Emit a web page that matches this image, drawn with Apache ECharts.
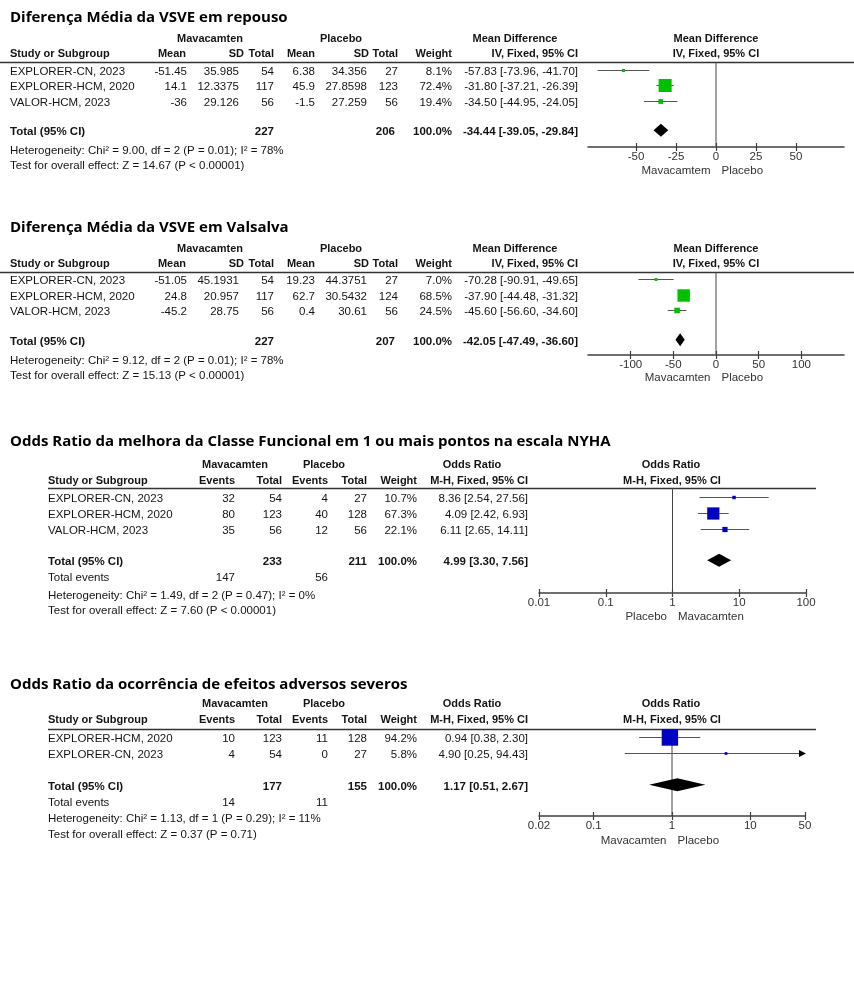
<!DOCTYPE html>
<html><head><meta charset="utf-8">
<script src="https://cdn.jsdelivr.net/npm/echarts@6/dist/echarts.min.js"></script>
<style>html,body{margin:0;padding:0;background:#fff}#c{width:854px;height:1008px}</style>
</head><body><div id="c"></div>
<script>
// ================= DATA =================
// Panel 1 – Diferença Média da VSVE em repouso
const p1Title = 'Diferença Média da VSVE em repouso';
const p1Studies = ['EXPLORER-CN, 2023', 'EXPLORER-HCM, 2020', 'VALOR-HCM, 2023'];
const p1MavMean = ['-51.45', '14.1', '-36'];
const p1MavSD = ['35.985', '12.3375', '29.126'];
const p1MavTotal = [54, 117, 56];
const p1PlaMean = ['6.38', '45.9', '-1.5'];
const p1PlaSD = ['34.356', '27.8598', '27.259'];
const p1PlaTotal = [27, 123, 56];
const p1Weight = [8.1, 72.4, 19.4];
const p1Est = [-57.83, -31.80, -34.50];
const p1Lo = [-73.96, -37.21, -44.95];
const p1Hi = [-41.70, -26.39, -24.05];
const p1SumTotals = [227, 206];
const p1Pooled = [-34.44, -39.05, -29.84];
const p1Het = 'Heterogeneity: Chi² = 9.00, df = 2 (P = 0.01); I² = 78%';
const p1Effect = 'Test for overall effect: Z = 14.67 (P < 0.00001)';
const p1Ticks = [-50, -25, 0, 25, 50];
const p1Range = [-80, 80];
const p1Favours = ['Mavacamtem', 'Placebo'];

// Panel 2 – Diferença Média da VSVE em Valsalva
const p2Title = 'Diferença Média da VSVE em Valsalva';
const p2Studies = ['EXPLORER-CN, 2023', 'EXPLORER-HCM, 2020', 'VALOR-HCM, 2023'];
const p2MavMean = ['-51.05', '24.8', '-45.2'];
const p2MavSD = ['45.1931', '20.957', '28.75'];
const p2MavTotal = [54, 117, 56];
const p2PlaMean = ['19.23', '62.7', '0.4'];
const p2PlaSD = ['44.3751', '30.5432', '30.61'];
const p2PlaTotal = [27, 124, 56];
const p2Weight = [7.0, 68.5, 24.5];
const p2Est = [-70.28, -37.90, -45.60];
const p2Lo = [-90.91, -44.48, -56.60];
const p2Hi = [-49.65, -31.32, -34.60];
const p2SumTotals = [227, 207];
const p2Pooled = [-42.05, -47.49, -36.60];
const p2Het = 'Heterogeneity: Chi² = 9.12, df = 2 (P = 0.01); I² = 78%';
const p2Effect = 'Test for overall effect: Z = 15.13 (P < 0.00001)';
const p2Ticks = [-100, -50, 0, 50, 100];
const p2Range = [-150, 150];
const p2Favours = ['Mavacamten', 'Placebo'];

// Panel 3 – Odds Ratio da melhora da Classe Funcional (NYHA)
const p3Title = 'Odds Ratio da melhora da Classe Funcional em 1 ou mais pontos na escala NYHA';
const p3Studies = ['EXPLORER-CN, 2023', 'EXPLORER-HCM, 2020', 'VALOR-HCM, 2023'];
const p3MavEvents = [32, 80, 35];
const p3MavTotal = [54, 123, 56];
const p3PlaEvents = [4, 40, 12];
const p3PlaTotal = [27, 128, 56];
const p3Weight = [10.7, 67.3, 22.1];
const p3Est = [8.36, 4.09, 6.11];
const p3Lo = [2.54, 2.42, 2.65];
const p3Hi = [27.56, 6.93, 14.11];
const p3SumTotals = [233, 211];
const p3SumEvents = [147, 56];
const p3Pooled = [4.99, 3.30, 7.56];
const p3Het = 'Heterogeneity: Chi² = 1.49, df = 2 (P = 0.47); I² = 0%';
const p3Effect = 'Test for overall effect: Z = 7.60 (P < 0.00001)';
const p3Ticks = [0.01, 0.1, 1, 10, 100];
const p3Favours = ['Placebo', 'Mavacamten'];

// Panel 4 – Odds Ratio da ocorrência de efeitos adversos severos
const p4Title = 'Odds Ratio da ocorrência de efeitos adversos severos';
const p4Studies = ['EXPLORER-HCM, 2020', 'EXPLORER-CN, 2023'];
const p4MavEvents = [10, 4];
const p4MavTotal = [123, 54];
const p4PlaEvents = [11, 0];
const p4PlaTotal = [128, 27];
const p4Weight = [94.2, 5.8];
const p4Est = [0.94, 4.90];
const p4Lo = [0.38, 0.25];
const p4Hi = [2.30, 94.43];
const p4SumTotals = [177, 155];
const p4SumEvents = [14, 11];
const p4Pooled = [1.17, 0.51, 2.67];
const p4Het = 'Heterogeneity: Chi² = 1.13, df = 1 (P = 0.29); I² = 11%';
const p4Effect = 'Test for overall effect: Z = 0.37 (P = 0.71)';
const p4Ticks = [0.02, 0.1, 1, 10, 50];
const p4Favours = ['Mavacamten', 'Placebo'];

// Header labels
const mdHeadTop = ['Mavacamten', 'Placebo', 'Mean Difference', 'Mean Difference'];
const mdHeadSub = ['Study or Subgroup', 'Mean', 'SD', 'Total', 'Mean', 'SD', 'Total', 'Weight', 'IV, Fixed, 95% CI', 'IV, Fixed, 95% CI'];
const orHeadTop = ['Mavacamten', 'Placebo', 'Odds Ratio', 'Odds Ratio'];
const orHeadSub = ['Study or Subgroup', 'Events', 'Total', 'Events', 'Total', 'Weight', 'M-H, Fixed, 95% CI', 'M-H, Fixed, 95% CI'];
const totalLabel = 'Total (95% CI)';
const totalWeightLabel = '100.0%';
const eventsLabel = 'Total events';

// ================= LAYOUT / STYLE =================
const FONT = '"Liberation Sans", Arial, Helvetica, sans-serif';
const TITLE_FONT = 'bold 15px "Open Sans", "Liberation Sans", sans-serif';
const ROW_SIZE = '11.5px ';
const HEAD_SIZE = '11px ';
const GREEN = '#00c000';
const BLUE = '#0000c0';
const TXT = '#141414';

const MD_HEAD_TOP_POS = [[210, 'center'], [341, 'center'], [515, 'center'], [716, 'center']];
const MD_HEAD_SUB_POS = [[10, 'left'], [186, 'right'], [244, 'right'], [274, 'right'], [315, 'right'], [369, 'right'], [398, 'right'], [452, 'right'], [578, 'right'], [716, 'center']];
const MD_COLS = { study: 10, cells: [187, 239, 274, 315, 367, 398], weight: 452, ci: 578, totN: [274, 395] };
const OR_HEAD_TOP_POS = [[235, 'center'], [324, 'center'], [472, 'center'], [671, 'center']];
const OR_HEAD_SUB_POS = [[48, 'left'], [235, 'right'], [282, 'right'], [328, 'right'], [367, 'right'], [417, 'right'], [528, 'right'], [672, 'center']];
const OR_COLS = { study: 48, cells: [235, 282, 328, 367], weight: 417, ci: 528, totN: [282, 367], totEv: [235, 328] };

const LAYOUT = [
  { titleY: 18, h1Y: 39, h2Y: 54, top: 62, bottom: 147, unit: 15.5, row1: 69.7, totalRow: 4.9, eventsRow: null, hetRow: 6.1, testRow: 7.07, lineX: [0, 854], gridLeft: 588, gridWidth: 256, favY: 171 },
  { titleY: 228, h1Y: 249, h2Y: 264, top: 272, bottom: 355, unit: 15.5, row1: 279.3, totalRow: 4.9, eventsRow: null, hetRow: 6.1, testRow: 7.07, lineX: [0, 854], gridLeft: 588, gridWidth: 256, favY: 378 },
  { titleY: 442, h1Y: 465, h2Y: 481, top: 488, bottom: 593, unit: 15.8, row1: 497, totalRow: 5, eventsRow: 6, hetRow: 7.1, testRow: 8.05, lineX: [48, 816], gridLeft: 539, gridWidth: 267, favY: 617 },
  { titleY: 685, h1Y: 704, h2Y: 720, top: 729, bottom: 816, unit: 16, row1: 736.7, totalRow: 4, eventsRow: 5, hetRow: 6, testRow: 7, lineX: [48, 816], gridLeft: 539, gridWidth: 266, favY: 841 }
];

// ================= BUILD =================
const f2 = v => v.toFixed(2);
const ciText = (e, l, h) => `${f2(e)} [${f2(l)}, ${f2(h)}]`;
const wText = w => w.toFixed(1) + '%';

const panels = [
  { kind: 'md', title: p1Title, studies: p1Studies, cols: [p1MavMean, p1MavSD, p1MavTotal, p1PlaMean, p1PlaSD, p1PlaTotal], weight: p1Weight, est: p1Est, lo: p1Lo, hi: p1Hi, totals: p1SumTotals, events: null, pooled: p1Pooled, het: p1Het, effect: p1Effect, ticks: p1Ticks, range: p1Range, favours: p1Favours, color: GREEN },
  { kind: 'md', title: p2Title, studies: p2Studies, cols: [p2MavMean, p2MavSD, p2MavTotal, p2PlaMean, p2PlaSD, p2PlaTotal], weight: p2Weight, est: p2Est, lo: p2Lo, hi: p2Hi, totals: p2SumTotals, events: null, pooled: p2Pooled, het: p2Het, effect: p2Effect, ticks: p2Ticks, range: p2Range, favours: p2Favours, color: GREEN },
  { kind: 'or', title: p3Title, studies: p3Studies, cols: [p3MavEvents, p3MavTotal, p3PlaEvents, p3PlaTotal], weight: p3Weight, est: p3Est, lo: p3Lo, hi: p3Hi, totals: p3SumTotals, events: p3SumEvents, pooled: p3Pooled, het: p3Het, effect: p3Effect, ticks: p3Ticks, range: [p3Ticks[0], p3Ticks[p3Ticks.length - 1]], favours: p3Favours, color: BLUE },
  { kind: 'or', title: p4Title, studies: p4Studies, cols: [p4MavEvents, p4MavTotal, p4PlaEvents, p4PlaTotal], weight: p4Weight, est: p4Est, lo: p4Lo, hi: p4Hi, totals: p4SumTotals, events: p4SumEvents, pooled: p4Pooled, het: p4Het, effect: p4Effect, ticks: p4Ticks, range: [p4Ticks[0], p4Ticks[p4Ticks.length - 1]], favours: p4Favours, color: BLUE }
];

function textEl(x, y, text, align, bold, fill, font, size) {
  return {
    type: 'text', x: x, y: y, silent: true,
    style: {
      text: String(text), font: font || ((bold ? 'bold ' : '') + (size || HEAD_SIZE) + FONT), fill: fill || TXT,
      textAlign: align, textVerticalAlign: 'middle', align: align, verticalAlign: 'middle'
    }
  };
}

const grids = [], xAxes = [], yAxes = [], series = [], graphics = [];

panels.forEach((P, i) => {
  const L = LAYOUT[i];
  const isLog = P.kind === 'or';
  const ref = isLog ? 1 : 0;
  const yMin = 1 - (L.row1 - L.top) / L.unit;
  const yMax = yMin + (L.bottom - L.top) / L.unit;
  const C = isLog ? OR_COLS : MD_COLS;

  grids.push({ left: L.gridLeft, top: L.top, width: L.gridWidth, height: L.bottom - L.top, outerBoundsMode: 'none', containLabel: false });

  const baseX = {
    gridIndex: i, type: isLog ? 'log' : 'value', min: P.range[0], max: P.range[1], position: 'bottom',
    splitLine: { show: false }, minorTick: { show: false }
  };
  if (isLog) baseX.logBase = 10;
  const mainX = Object.assign({}, baseX, {
    axisLine: { show: true, onZero: false, lineStyle: { color: '#404040', width: 1.5 } },
    axisTick: { show: true, inside: false, length: 4, lineStyle: { color: '#404040', width: 1.2 } },
    axisLabel: { show: true, margin: 4, fontSize: 11.5, fontFamily: FONT, color: '#333', showMinLabel: true, showMaxLabel: true }
  });
  if (!isLog) { mainX.axisTick.customValues = P.ticks; mainX.axisLabel.customValues = P.ticks; }
  const overX = Object.assign({}, baseX, {
    axisLine: { show: false, onZero: false },
    axisTick: { show: true, inside: true, length: 4, lineStyle: { color: '#404040', width: 1.2 } },
    axisLabel: { show: false }
  });
  if (!isLog) overX.axisTick.customValues = P.ticks;
  const mainXIdx = xAxes.length; xAxes.push(mainX); xAxes.push(overX);
  yAxes.push({ gridIndex: i, type: 'value', inverse: true, min: yMin, max: yMax, show: false });

  // null-effect reference line
  series.push({
    type: 'line', xAxisIndex: mainXIdx, yAxisIndex: i, silent: true, symbol: 'none', z: 1,
    data: [[ref, yMin], [ref, yMax]], lineStyle: { color: '#444', width: 1 }
  });

  // study estimates: CI whiskers + weighted squares
  const studyData = P.est.map((e, k) => [e, k + 1, P.lo[k], P.hi[k], P.weight[k]]);
  series.push({
    type: 'custom', xAxisIndex: mainXIdx, yAxisIndex: i, clip: false, z: 3, silent: true,
    data: studyData,
    renderItem: (params, api) => {
      const cs = params.coordSys;
      const row = api.value(1);
      const pE = api.coord([api.value(0), row]);
      const pL = api.coord([api.value(2), row]);
      const pH = api.coord([api.value(3), row]);
      const xLo = Math.max(pL[0], cs.x), xHi = Math.min(pH[0], cs.x + cs.width);
      const y = Math.round(pE[1]) + 0.5;
      const s = 1.8 + 0.155 * api.value(4);
      const ch = [{ type: 'line', shape: { x1: xLo, y1: y, x2: xHi, y2: y }, style: { stroke: '#555', lineWidth: 1 } }];
      if (pH[0] > cs.x + cs.width) {
        ch.push({ type: 'polygon', shape: { points: [[xHi + 1, y], [xHi - 6, y - 3.5], [xHi - 6, y + 3.5]] }, style: { fill: '#000' } });
      }
      ch.push({ type: 'rect', shape: { x: pE[0] - s / 2, y: y - s / 2, width: s, height: s }, style: { fill: P.color } });
      return { type: 'group', children: ch };
    }
  });

  // pooled diamond
  series.push({
    type: 'custom', xAxisIndex: mainXIdx, yAxisIndex: i, clip: false, z: 4, silent: true,
    data: [[P.pooled[0], L.totalRow, P.pooled[1], P.pooled[2]]],
    renderItem: (params, api) => {
      const row = api.value(1);
      const pE = api.coord([api.value(0), row]);
      const pL = api.coord([api.value(2), row]);
      const pH = api.coord([api.value(3), row]);
      const y = pE[1], h = 6.5;
      return { type: 'polygon', shape: { points: [[pL[0], y], [pE[0], y - h], [pH[0], y], [pE[0], y + h]] }, style: { fill: '#000' } };
    }
  });

  // table rows (text), vertically placed through the same y axis
  const specs = [];
  P.studies.forEach((name, k) => {
    const cells = [[C.study, 'left', name, false]];
    P.cols.forEach((col, c) => cells.push([C.cells[c], 'right', col[k], false]));
    cells.push([C.weight, 'right', wText(P.weight[k]), false]);
    cells.push([C.ci, 'right', ciText(P.est[k], P.lo[k], P.hi[k]), false]);
    specs.push({ row: k + 1, cells });
  });
  specs.push({ row: L.totalRow, cells: [
    [C.study, 'left', totalLabel, true],
    [C.totN[0], 'right', P.totals[0], true],
    [C.totN[1], 'right', P.totals[1], true],
    [C.weight, 'right', totalWeightLabel, true],
    [C.ci, 'right', ciText(P.pooled[0], P.pooled[1], P.pooled[2]), true]
  ] });
  if (P.events) {
    specs.push({ row: L.eventsRow, cells: [
      [C.study, 'left', eventsLabel, false],
      [C.totEv[0], 'right', P.events[0], false],
      [C.totEv[1], 'right', P.events[1], false]
    ] });
  }
  specs.push({ row: L.hetRow, cells: [[C.study, 'left', P.het, false]] });
  specs.push({ row: L.testRow, cells: [[C.study, 'left', P.effect, false]] });

  series.push({
    type: 'custom', xAxisIndex: mainXIdx, yAxisIndex: i, clip: false, z: 5, silent: true,
    data: specs.map(s => [ref, s.row]),
    renderItem: (params, api) => {
      const sp = specs[params.dataIndex];
      const y = api.coord([ref, api.value(1)])[1] + 2;
      return { type: 'group', children: sp.cells.map(c => textEl(c[0], y, c[2], c[1], c[3], null, null, ROW_SIZE)) };
    }
  });

  // headers, title, rule line
  graphics.push(textEl(10, L.titleY, P.title, 'left', true, '#000', TITLE_FONT));
  const ht = isLog ? orHeadTop : mdHeadTop, htp = isLog ? OR_HEAD_TOP_POS : MD_HEAD_TOP_POS;
  const hs = isLog ? orHeadSub : mdHeadSub, hsp = isLog ? OR_HEAD_SUB_POS : MD_HEAD_SUB_POS;
  ht.forEach((t, k) => graphics.push(textEl(htp[k][0], L.h1Y, t, htp[k][1], true)));
  hs.forEach((t, k) => graphics.push(textEl(hsp[k][0], L.h2Y, t, hsp[k][1], true)));
  graphics.push({ type: 'line', silent: true, shape: { x1: L.lineX[0], y1: L.top + 0.5, x2: L.lineX[1], y2: L.top + 0.5 }, style: { stroke: '#333', lineWidth: 1.5 } });
  P._axis = { ref, mainXIdx };
});

const option = {
  animation: false,
  backgroundColor: '#fff',
  grid: grids, xAxis: xAxes, yAxis: yAxes, series: series, graphic: { elements: graphics }
};
const chart = echarts.init(document.getElementById('c'), null, { renderer: 'canvas', width: 854, height: 1008 });
chart.setOption(option);

// favours labels positioned at the null-effect line, located through the axis
const favGraphics = [];
panels.forEach((P, i) => {
  const L = LAYOUT[i];
  const x0 = chart.convertToPixel({ xAxisIndex: P._axis.mainXIdx }, P._axis.ref);
  favGraphics.push(textEl(x0 - 5.5, L.favY, P.favours[0], 'right', false, '#333', null, ROW_SIZE));
  favGraphics.push(textEl(x0 + 5.5, L.favY, P.favours[1], 'left', false, '#333', null, ROW_SIZE));
});
chart.setOption({ graphic: { elements: graphics.concat(favGraphics) } });
</script>
</body></html>
